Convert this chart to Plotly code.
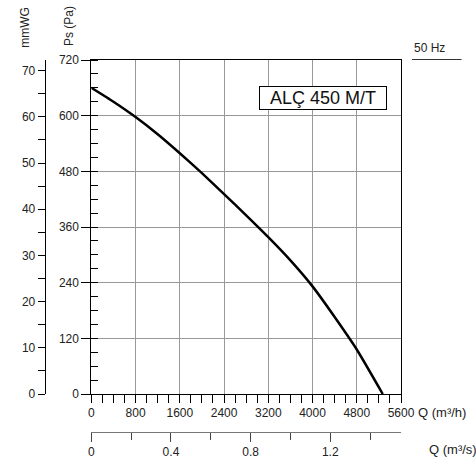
import plotly.graph_objects as go

# Data
flow_m3h = [0, 400, 800, 1200, 1600, 2000, 2400, 2800, 3200, 3600, 4000, 4400, 4800, 5270]
pressure_pa = [660, 630, 597, 560, 519, 476, 431, 385, 338, 288, 232, 166, 96, 0]

pa_ticks = [0, 120, 240, 360, 480, 600, 720]
q_h_ticks = [0, 800, 1600, 2400, 3200, 4000, 4800, 5600]
q_s_ticks = [0, 0.4, 0.8, 1.2]
q_s_labels = ["0", "0.4", "0.8", "1.2"]
mmwg_ticks = [0, 10, 20, 30, 40, 50, 60, 70]

model_label = "ALÇ 450 M/T"
freq_label = "50 Hz"

FONT = "Arial, Liberation Sans, sans-serif"
W, H = 476, 461
L, R, T, B = 0, 74, 59, 10
PW = W - L - R
PH = H - T - B


def px_x(px):
    return (px - L) / PW


def px_y(py):
    return (H - B - py) / PH


fig = go.Figure()
fig.add_trace(go.Scatter(
    x=flow_m3h, y=pressure_pa, mode="lines",
    line=dict(color="black", width=2.5, shape="spline", smoothing=0.5),
    showlegend=False, hoverinfo="skip", cliponaxis=False,
))
# invisible helper traces so the secondary axes render
fig.add_trace(go.Scatter(
    x=[q / 3600 for q in flow_m3h], y=pressure_pa, xaxis="x2", yaxis="y",
    mode="lines", line=dict(color="rgba(0,0,0,0)"), showlegend=False, hoverinfo="skip",
))
fig.add_trace(go.Scatter(
    x=flow_m3h, y=[p / 10 for p in pressure_pa], xaxis="x", yaxis="y2",
    mode="lines", line=dict(color="rgba(0,0,0,0)"), showlegend=False, hoverinfo="skip",
))

x_dom = [px_x(89), px_x(401)]
y_dom = [px_y(394), px_y(60)]

tickfont = dict(family=FONT, size=12, color="#222")

fig.update_layout(
    width=W, height=H,
    margin=dict(l=L, r=R, t=T, b=B),
    paper_bgcolor="white", plot_bgcolor="white",
    font=dict(family=FONT, size=12, color="#222"),
    xaxis=dict(
        domain=x_dom, range=[0, 5600], tickvals=q_h_ticks,
        showgrid=True, gridcolor="#999999", gridwidth=1,
        showline=True, linecolor="black", linewidth=1, mirror=True,
        ticks="outside", ticklen=8, tickcolor="black", tickwidth=1,
        minor=dict(dtick=200, ticks="outside", ticklen=8, tickcolor="black", showgrid=False),
        tickfont=tickfont, zeroline=False, fixedrange=True,
    ),
    yaxis=dict(
        domain=y_dom, range=[0, 720], tickvals=pa_ticks,
        showgrid=True, gridcolor="#999999", gridwidth=1,
        showline=True, linecolor="black", linewidth=1, mirror=True,
        ticks="outside", ticklen=9, tickcolor="black", tickwidth=1,
        minor=dict(dtick=30, ticks="inside", ticklen=7, tickcolor="black", showgrid=False),
        tickfont=tickfont, zeroline=False, fixedrange=True,
    ),
    xaxis2=dict(
        overlaying="x", anchor="free", position=px_y(432), side="bottom",
        domain=x_dom, range=[0, 5600 / 3600],
        tickvals=q_s_ticks, ticktext=q_s_labels,
        showgrid=False, showline=True, linecolor="#777", linewidth=1,
        ticks="outside", ticklen=9, tickcolor="#444", tickwidth=1,
        minor=dict(dtick=0.2, ticks="outside", ticklen=7, tickcolor="#444", showgrid=False),
        tickfont=tickfont, zeroline=False, fixedrange=True,
    ),
    yaxis2=dict(
        overlaying="y", anchor="free", position=px_x(42), side="left",
        range=[0, 72.3], tickvals=mmwg_ticks,
        showgrid=False, showline=True, linecolor="black", linewidth=1,
        ticks="outside", ticklen=7, tickcolor="black", tickwidth=1,
        minor=dict(dtick=5, ticks="outside", ticklen=7, tickcolor="black", showgrid=False),
        tickfont=tickfont, zeroline=False, fixedrange=True,
    ),
    annotations=[
        dict(text="Q (m³/h)", xref="paper", yref="paper", x=px_x(416), y=px_y(412),
             xanchor="left", yanchor="middle", showarrow=False, font=dict(size=13)),
        dict(text="Q (m³/s)", xref="paper", yref="paper", x=px_x(427), y=px_y(449),
             xanchor="left", yanchor="middle", showarrow=False, font=dict(size=13)),
        dict(text="Ps (Pa)", xref="paper", yref="paper", x=px_x(66.5), y=px_y(26),
             xanchor="center", yanchor="middle", textangle=-90, showarrow=False, font=dict(size=12)),
        dict(text="mmWG", xref="paper", yref="paper", x=px_x(22), y=px_y(27),
             xanchor="center", yanchor="middle", textangle=-90, showarrow=False, font=dict(size=12)),
        dict(text=freq_label, xref="paper", yref="paper", x=px_x(412), y=px_y(48),
             xanchor="left", yanchor="middle", showarrow=False, font=dict(size=12)),
        dict(text=model_label, xref="paper", yref="paper", x=px_x(322.8), y=px_y(98),
             xanchor="center", yanchor="middle", showarrow=False,
             font=dict(size=18, color="#111"), bgcolor="white",
             width=124, height=20,
             bordercolor="black", borderwidth=1, borderpad=1),
    ],
    shapes=[
        dict(type="line", xref="paper", yref="paper",
             x0=px_x(412), x1=px_x(462), y0=px_y(59.5), y1=px_y(59.5),
             line=dict(color="#333", width=1)),
    ],
)

fig.write_html(
    "out.html",
    config={"displayModeBar": False, "staticPlot": True},
    post_script="document.body.style.margin='0';document.body.style.overflow='hidden';",
)
